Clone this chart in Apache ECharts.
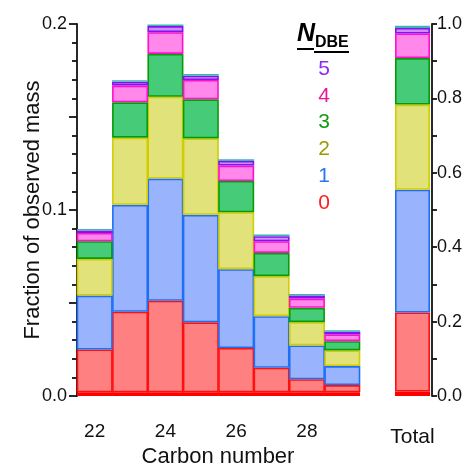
<!DOCTYPE html>
<html>
<head>
<meta charset="utf-8">
<script src="https://cdn.jsdelivr.net/npm/echarts@6/dist/echarts.min.js"></script>
<style>
  html, body { margin: 0; padding: 0; background: #fff; }
  #main { width: 469px; height: 468px; }
</style>
</head>
<body>
<div id="main"></div>
<script>
// carbon number categories
const carbon = ['22', '23', '24', '25', '26', '27', '28', '29']

// per-layer fractions (stacked from bottom)
const baseLayer = [0.002, 0.002, 0.002, 0.002, 0.002, 0.002, 0.002, 0.002]
const dbe0 = [0.023, 0.0433, 0.0492, 0.0376, 0.0238, 0.0132, 0.007, 0.0039]
const dbe1 = [0.029, 0.0575, 0.0657, 0.0578, 0.0424, 0.0277, 0.0182, 0.0102]
const dbe2 = [0.0197, 0.0361, 0.044, 0.0411, 0.0306, 0.0215, 0.0125, 0.0084]
const dbe3 = [0.0095, 0.019, 0.023, 0.021, 0.0168, 0.0125, 0.0077, 0.005]
const dbe4 = [0.0045, 0.009, 0.0117, 0.0104, 0.0083, 0.0063, 0.005, 0.0036]
const dbe5 = [0.0013, 0.002, 0.0033, 0.0023, 0.0025, 0.0027, 0.0016, 0.0015]
const dbe6 = [0.0008, 0.0008, 0.0008, 0.0009, 0.0009, 0.0009, 0.0008, 0.0008]

// total bar (base, 0..6)
const totalLabel = ['Total']
const totalShares = [0.012, 0.2125, 0.33, 0.229, 0.125, 0.066, 0.015, 0.006]

// legend entries
const legendNums = ['5', '4', '3', '2', '1', '0']
const legendColors = ['#8f2cf5', '#e8179e', '#129a12', '#9a9a00', '#2f74f0', '#ff1f1f']

const layers = [
  { name: 'base', data: baseLayer, fill: '#ff0000', border: '#ff0000' },
  { name: '0', data: dbe0, fill: '#ff8080', border: '#ff1010' },
  { name: '1', data: dbe1, fill: '#99b4fc', border: '#1f6ff5' },
  { name: '2', data: dbe2, fill: '#e2e27a', border: '#d2cc00' },
  { name: '3', data: dbe3, fill: '#46cc78', border: '#079b07' },
  { name: '4', data: dbe4, fill: '#ff88ea', border: '#ff10cc' },
  { name: '5', data: dbe5, fill: '#c891ff', border: '#8a10f0' },
  { name: '6', data: dbe6, fill: '#3cb4b4', border: '#3cb4b4' }
]

const font = 'Liberation Sans, Arial, sans-serif'

let series = []
layers.forEach((l, i) => {
  let thin = l.name == 'base' || l.name == '6'
  let style = {
    color: l.fill,
    borderColor: l.border,
    borderWidth: thin ? 0 : 1.6
  }
  series.push({
    name: l.name,
    type: 'bar',
    stack: 'carbon',
    xAxisIndex: 0,
    yAxisIndex: 0,
    barWidth: 36,
    data: l.data,
    itemStyle: style,
    silent: true
  })
  series.push({
    name: l.name + '-total',
    type: 'bar',
    stack: 'total',
    xAxisIndex: 2,
    yAxisIndex: 1,
    barWidth: 35,
    data: [totalShares[i]],
    itemStyle: style,
    silent: true
  })
})

let graphic = [
  {
    type: 'text', x: 33, y: 210, rotation: Math.PI / 2,
    style: { text: 'Fraction of observed mass', font: '22px ' + font, fill: '#111', align: 'center', verticalAlign: 'middle' }
  },
  {
    type: 'text', x: 218, y: 457,
    style: { text: 'Carbon number', font: '22px ' + font, fill: '#111', align: 'center', verticalAlign: 'middle' }
  },
  {
    type: 'text', x: 297, y: 47,
    style: { text: 'N', font: 'italic bold 25px ' + font, fill: '#000', align: 'left', verticalAlign: 'bottom' }
  },
  {
    type: 'text', x: 315, y: 51,
    style: { text: 'DBE', font: 'bold 16px ' + font, fill: '#000', align: 'left', verticalAlign: 'bottom' }
  },
  { type: 'rect', shape: { x: 297, y: 48, width: 17, height: 2 }, style: { fill: '#000' } },
  { type: 'rect', shape: { x: 314, y: 51, width: 35, height: 2 }, style: { fill: '#000' } }
]
legendNums.forEach((n, i) => {
  graphic.push({
    type: 'text', x: 324, y: 69 + i * 26.8,
    style: { text: n, font: '21px ' + font, fill: legendColors[i], align: 'center', verticalAlign: 'middle' }
  })
})

const option = {
  animation: false,
  backgroundColor: '#fff',
  grid: [
    { left: 77, top: 24, width: 283, height: 372 },
    { left: 393, top: 24, width: 39, height: 372 }
  ],
  xAxis: [
    {
      type: 'category', gridIndex: 0, data: carbon, position: 'bottom',
      axisLine: { show: false },
      axisTick: {
        alignWithLabel: true, length: 12,
        interval: (idx) => idx % 2 == 0,
        lineStyle: { color: '#111', width: 1.8 }
      },
      axisLabel: { interval: 1, margin: 26, fontSize: 19, fontFamily: font, color: '#111' }
    },
    {
      type: 'category', gridIndex: 0, data: carbon, position: 'bottom', offset: 0,
      axisLine: { show: false },
      axisTick: { alignWithLabel: true, length: 6, interval: 0, lineStyle: { color: '#111', width: 1.8 } },
      axisLabel: { show: false }
    },
    {
      type: 'category', gridIndex: 1, data: totalLabel,
      axisLine: { show: false },
      axisTick: { show: false },
      axisLabel: { margin: 31, fontSize: 21, fontFamily: font, color: '#111' }
    }
  ],
  yAxis: [
    {
      type: 'value', gridIndex: 0, min: 0, max: 0.2, interval: 0.05,
      axisLine: { show: true, lineStyle: { color: '#111', width: 1.8 } },
      axisTick: { show: true, length: 8, lineStyle: { color: '#111', width: 1.8 } },
      minorTick: { show: true, splitNumber: 5, length: 5, lineStyle: { color: '#111', width: 1.8 } },
      splitLine: { show: false },
      axisLabel: {
        margin: 10, fontSize: 18, fontFamily: font, color: '#111',
        formatter: (v) => Math.round(v * 100) % 10 == 0 ? v.toFixed(1) : ''
      }
    },
    {
      type: 'value', gridIndex: 1, min: 0, max: 1, interval: 0.1, position: 'right',
      axisLine: { show: true, lineStyle: { color: '#111', width: 1.8 } },
      axisTick: { show: true, length: 5, lineStyle: { color: '#111', width: 1.8 } },
      splitLine: { show: false },
      axisLabel: {
        margin: 5, fontSize: 18, fontFamily: font, color: '#111',
        formatter: (v) => Math.round(v * 10) % 2 == 0 ? v.toFixed(1) : ''
      }
    }
  ],
  series: series,
  graphic: graphic
}

var myChart = echarts.init(document.getElementById('main'), null, { renderer: 'canvas' })
myChart.setOption(option)
</script>
</body>
</html>
